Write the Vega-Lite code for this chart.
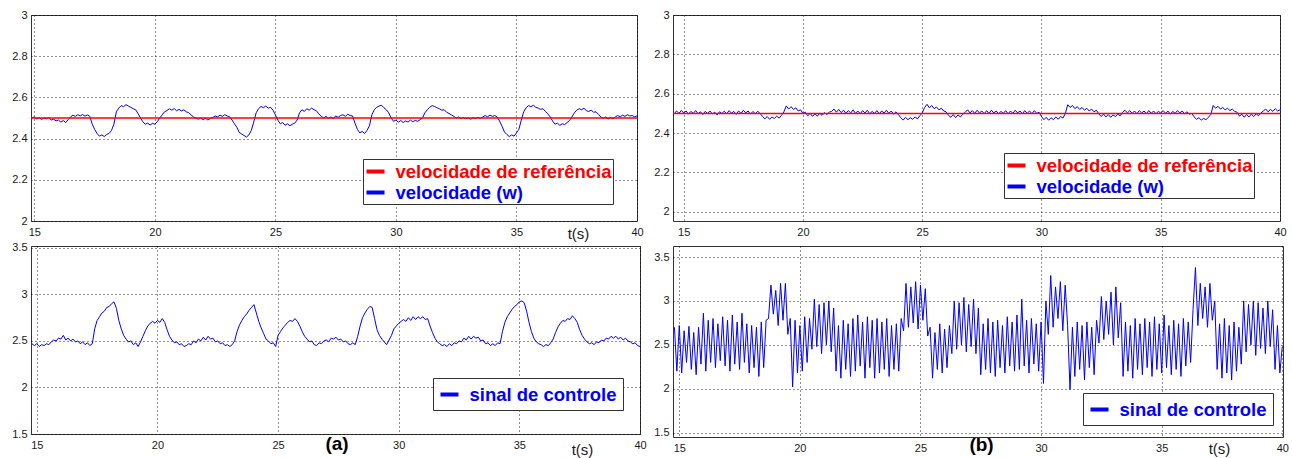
{
"$schema": "https://vega.github.io/schema/vega-lite/v6.json",
"background": "white",
"padding": {"left": 11, "top": 8, "right": 2, "bottom": 0},
"columns": 2,
"spacing": {"row": 25, "column": 33},
"bounds": "flush",
"resolve": {"scale": {"x": "independent", "y": "independent", "color": "independent"}, "axis": {"x": "independent", "y": "independent"}, "legend": {"color": "independent"}},
"config": {
"view": {"stroke": "#333333", "strokeWidth": 1},
"axis": {"labelFont": "Liberation Sans", "labelFontSize": 11, "labelColor": "#1a1a1a", "ticks": false, "domain": false, "grid": true, "gridColor": "#000000", "gridDash": [1, 3], "gridOpacity": 0.85, "gridWidth": 1, "labelFlush": false, "labelOverlap": false, "titleFont": "Liberation Sans", "titleFontSize": 15, "titleFontWeight": "normal", "titleColor": "#1a1a1a", "format": "~g"},
"axisX": {"labelPadding": 5},
"axisY": {"labelPadding": 4, "title": null},
"legend": {"orient": "none", "title": null, "symbolType": "stroke", "symbolStrokeWidth": 4, "symbolSize": 324, "labelFont": "Liberation Sans", "labelFontSize": 18.5, "labelFontWeight": "bold", "labelLimit": 500, "strokeColor": "#333333", "fillColor": "white", "labelOffset": 9, "cornerRadius": 0}
},
"datasets": {
"ra": [{"t": 14.86, "v": 2.5}, {"t": 40, "v": 2.5}],
"rb": [{"t": 14.55, "v": 2.5}, {"t": 40, "v": 2.5}],
"a1": [
{"t":14.9,"v":2.500},{"t":15.0,"v":2.505},{"t":15.1,"v":2.495},{"t":15.2,"v":2.502},{"t":15.3,"v":2.493},{"t":15.4,"v":2.500},{"t":15.5,"v":2.496},{"t":15.6,"v":2.502},{"t":15.7,"v":2.490},{"t":15.8,"v":2.494},{"t":15.9,"v":2.486},{"t":16.0,"v":2.490},{"t":16.1,"v":2.480},{"t":16.2,"v":2.488},{"t":16.3,"v":2.478},{"t":16.4,"v":2.492},{"t":16.5,"v":2.505},{"t":16.6,"v":2.514},{"t":16.7,"v":2.508},{"t":16.8,"v":2.516},{"t":16.9,"v":2.510},{"t":17.0,"v":2.517},{"t":17.1,"v":2.509},{"t":17.2,"v":2.515},{"t":17.3,"v":2.508},{"t":17.4,"v":2.470},{"t":17.5,"v":2.445},{"t":17.6,"v":2.425},{"t":17.7,"v":2.412},{"t":17.8,"v":2.418},{"t":17.9,"v":2.410},{"t":18.0,"v":2.420},{"t":18.1,"v":2.425},{"t":18.2,"v":2.440},{"t":18.3,"v":2.470},{"t":18.4,"v":2.530},{"t":18.5,"v":2.548},{"t":18.6,"v":2.560},{"t":18.7,"v":2.555},{"t":18.8,"v":2.565},{"t":18.9,"v":2.558},{"t":19.0,"v":2.552},{"t":19.1,"v":2.545},{"t":19.2,"v":2.540},{"t":19.3,"v":2.522},{"t":19.4,"v":2.500},{"t":19.5,"v":2.482},{"t":19.6,"v":2.470},{"t":19.7,"v":2.475},{"t":19.8,"v":2.466},{"t":19.9,"v":2.474},{"t":20.0,"v":2.470},{"t":20.1,"v":2.482},{"t":20.2,"v":2.500},{"t":20.3,"v":2.515},{"t":20.4,"v":2.530},{"t":20.5,"v":2.536},{"t":20.6,"v":2.545},{"t":20.7,"v":2.538},{"t":20.8,"v":2.546},{"t":20.9,"v":2.535},{"t":21.0,"v":2.542},{"t":21.1,"v":2.534},{"t":21.2,"v":2.540},{"t":21.3,"v":2.530},{"t":21.4,"v":2.526},{"t":21.5,"v":2.515},{"t":21.6,"v":2.505},{"t":21.7,"v":2.500},{"t":21.8,"v":2.494},{"t":21.9,"v":2.500},{"t":22.0,"v":2.492},{"t":22.1,"v":2.499},{"t":22.2,"v":2.490},{"t":22.3,"v":2.498},{"t":22.4,"v":2.502},{"t":22.5,"v":2.510},{"t":22.6,"v":2.505},{"t":22.7,"v":2.514},{"t":22.8,"v":2.508},{"t":22.9,"v":2.516},{"t":23.0,"v":2.510},{"t":23.1,"v":2.506},{"t":23.2,"v":2.490},{"t":23.3,"v":2.472},{"t":23.4,"v":2.455},{"t":23.5,"v":2.430},{"t":23.6,"v":2.422},{"t":23.7,"v":2.415},{"t":23.8,"v":2.408},{"t":23.9,"v":2.418},{"t":24.0,"v":2.440},{"t":24.1,"v":2.480},{"t":24.2,"v":2.525},{"t":24.3,"v":2.545},{"t":24.4,"v":2.556},{"t":24.5,"v":2.550},{"t":24.6,"v":2.558},{"t":24.7,"v":2.548},{"t":24.8,"v":2.552},{"t":24.9,"v":2.538},{"t":25.0,"v":2.515},{"t":25.1,"v":2.490},{"t":25.2,"v":2.472},{"t":25.3,"v":2.478},{"t":25.4,"v":2.465},{"t":25.5,"v":2.472},{"t":25.6,"v":2.462},{"t":25.7,"v":2.470},{"t":25.8,"v":2.475},{"t":25.9,"v":2.490},{"t":26.0,"v":2.525},{"t":26.1,"v":2.540},{"t":26.2,"v":2.532},{"t":26.3,"v":2.545},{"t":26.4,"v":2.538},{"t":26.5,"v":2.548},{"t":26.6,"v":2.540},{"t":26.7,"v":2.535},{"t":26.8,"v":2.520},{"t":26.9,"v":2.508},{"t":27.0,"v":2.500},{"t":27.1,"v":2.508},{"t":27.2,"v":2.498},{"t":27.3,"v":2.505},{"t":27.4,"v":2.497},{"t":27.5,"v":2.510},{"t":27.6,"v":2.503},{"t":27.7,"v":2.512},{"t":27.8,"v":2.516},{"t":27.9,"v":2.508},{"t":28.0,"v":2.518},{"t":28.1,"v":2.512},{"t":28.2,"v":2.510},{"t":28.3,"v":2.475},{"t":28.4,"v":2.445},{"t":28.5,"v":2.428},{"t":28.6,"v":2.435},{"t":28.7,"v":2.425},{"t":28.8,"v":2.440},{"t":28.9,"v":2.462},{"t":29.0,"v":2.515},{"t":29.1,"v":2.540},{"t":29.2,"v":2.552},{"t":29.3,"v":2.558},{"t":29.4,"v":2.562},{"t":29.5,"v":2.550},{"t":29.6,"v":2.540},{"t":29.7,"v":2.525},{"t":29.8,"v":2.500},{"t":29.9,"v":2.484},{"t":30.0,"v":2.490},{"t":30.1,"v":2.480},{"t":30.2,"v":2.488},{"t":30.3,"v":2.478},{"t":30.4,"v":2.486},{"t":30.5,"v":2.480},{"t":30.6,"v":2.490},{"t":30.7,"v":2.482},{"t":30.8,"v":2.488},{"t":30.9,"v":2.484},{"t":31.0,"v":2.492},{"t":31.1,"v":2.500},{"t":31.2,"v":2.525},{"t":31.3,"v":2.540},{"t":31.4,"v":2.552},{"t":31.5,"v":2.560},{"t":31.6,"v":2.556},{"t":31.7,"v":2.550},{"t":31.8,"v":2.545},{"t":31.9,"v":2.538},{"t":32.0,"v":2.540},{"t":32.1,"v":2.528},{"t":32.2,"v":2.522},{"t":32.3,"v":2.515},{"t":32.4,"v":2.508},{"t":32.5,"v":2.500},{"t":32.6,"v":2.505},{"t":32.7,"v":2.497},{"t":32.8,"v":2.502},{"t":32.9,"v":2.496},{"t":33.0,"v":2.500},{"t":33.1,"v":2.494},{"t":33.2,"v":2.502},{"t":33.3,"v":2.497},{"t":33.4,"v":2.503},{"t":33.5,"v":2.498},{"t":33.6,"v":2.505},{"t":33.7,"v":2.512},{"t":33.8,"v":2.506},{"t":33.9,"v":2.514},{"t":34.0,"v":2.508},{"t":34.1,"v":2.512},{"t":34.2,"v":2.505},{"t":34.3,"v":2.485},{"t":34.4,"v":2.460},{"t":34.5,"v":2.432},{"t":34.6,"v":2.420},{"t":34.7,"v":2.410},{"t":34.8,"v":2.418},{"t":34.9,"v":2.412},{"t":35.0,"v":2.428},{"t":35.1,"v":2.445},{"t":35.2,"v":2.490},{"t":35.3,"v":2.530},{"t":35.4,"v":2.550},{"t":35.5,"v":2.560},{"t":35.6,"v":2.555},{"t":35.7,"v":2.562},{"t":35.8,"v":2.552},{"t":35.9,"v":2.548},{"t":36.0,"v":2.542},{"t":36.1,"v":2.545},{"t":36.2,"v":2.532},{"t":36.3,"v":2.520},{"t":36.4,"v":2.505},{"t":36.5,"v":2.485},{"t":36.6,"v":2.470},{"t":36.7,"v":2.475},{"t":36.8,"v":2.464},{"t":36.9,"v":2.472},{"t":37.0,"v":2.468},{"t":37.1,"v":2.478},{"t":37.2,"v":2.488},{"t":37.3,"v":2.505},{"t":37.4,"v":2.525},{"t":37.5,"v":2.538},{"t":37.6,"v":2.545},{"t":37.7,"v":2.540},{"t":37.8,"v":2.548},{"t":37.9,"v":2.535},{"t":38.0,"v":2.532},{"t":38.1,"v":2.538},{"t":38.2,"v":2.528},{"t":38.3,"v":2.530},{"t":38.4,"v":2.518},{"t":38.5,"v":2.505},{"t":38.6,"v":2.498},{"t":38.7,"v":2.505},{"t":38.8,"v":2.495},{"t":38.9,"v":2.502},{"t":39.0,"v":2.496},{"t":39.1,"v":2.505},{"t":39.2,"v":2.512},{"t":39.3,"v":2.505},{"t":39.4,"v":2.514},{"t":39.5,"v":2.508},{"t":39.6,"v":2.516},{"t":39.7,"v":2.510},{"t":39.8,"v":2.512},{"t":39.9,"v":2.506},{"t":40.0,"v":2.510}
],
"a2": [
{"t":14.8,"v":2.47},{"t":14.9,"v":2.45},{"t":15.0,"v":2.47},{"t":15.1,"v":2.44},{"t":15.2,"v":2.46},{"t":15.3,"v":2.45},{"t":15.4,"v":2.47},{"t":15.5,"v":2.46},{"t":15.6,"v":2.49},{"t":15.7,"v":2.51},{"t":15.8,"v":2.50},{"t":15.9,"v":2.53},{"t":16.0,"v":2.52},{"t":16.1,"v":2.56},{"t":16.2,"v":2.51},{"t":16.3,"v":2.53},{"t":16.4,"v":2.50},{"t":16.5,"v":2.52},{"t":16.6,"v":2.49},{"t":16.7,"v":2.50},{"t":16.8,"v":2.47},{"t":16.9,"v":2.49},{"t":17.0,"v":2.46},{"t":17.1,"v":2.48},{"t":17.2,"v":2.45},{"t":17.3,"v":2.47},{"t":17.4,"v":2.63},{"t":17.5,"v":2.72},{"t":17.6,"v":2.76},{"t":17.7,"v":2.80},{"t":17.8,"v":2.82},{"t":17.9,"v":2.86},{"t":18.0,"v":2.87},{"t":18.1,"v":2.90},{"t":18.2,"v":2.92},{"t":18.3,"v":2.85},{"t":18.4,"v":2.72},{"t":18.5,"v":2.63},{"t":18.6,"v":2.56},{"t":18.7,"v":2.52},{"t":18.8,"v":2.49},{"t":18.9,"v":2.50},{"t":19.0,"v":2.46},{"t":19.1,"v":2.48},{"t":19.2,"v":2.44},{"t":19.3,"v":2.49},{"t":19.4,"v":2.55},{"t":19.5,"v":2.61},{"t":19.6,"v":2.66},{"t":19.7,"v":2.69},{"t":19.8,"v":2.71},{"t":19.9,"v":2.69},{"t":20.0,"v":2.72},{"t":20.1,"v":2.70},{"t":20.2,"v":2.74},{"t":20.3,"v":2.70},{"t":20.4,"v":2.62},{"t":20.5,"v":2.55},{"t":20.6,"v":2.51},{"t":20.7,"v":2.48},{"t":20.8,"v":2.49},{"t":20.9,"v":2.46},{"t":21.0,"v":2.47},{"t":21.1,"v":2.44},{"t":21.2,"v":2.45},{"t":21.3,"v":2.47},{"t":21.4,"v":2.46},{"t":21.5,"v":2.50},{"t":21.6,"v":2.48},{"t":21.7,"v":2.52},{"t":21.8,"v":2.50},{"t":21.9,"v":2.54},{"t":22.0,"v":2.51},{"t":22.1,"v":2.55},{"t":22.2,"v":2.52},{"t":22.3,"v":2.53},{"t":22.4,"v":2.49},{"t":22.5,"v":2.50},{"t":22.6,"v":2.47},{"t":22.7,"v":2.48},{"t":22.8,"v":2.45},{"t":22.9,"v":2.46},{"t":23.0,"v":2.44},{"t":23.1,"v":2.46},{"t":23.2,"v":2.50},{"t":23.3,"v":2.60},{"t":23.4,"v":2.67},{"t":23.5,"v":2.72},{"t":23.6,"v":2.76},{"t":23.7,"v":2.79},{"t":23.8,"v":2.83},{"t":23.9,"v":2.86},{"t":24.0,"v":2.89},{"t":24.1,"v":2.80},{"t":24.2,"v":2.71},{"t":24.3,"v":2.64},{"t":24.4,"v":2.58},{"t":24.5,"v":2.52},{"t":24.6,"v":2.50},{"t":24.7,"v":2.47},{"t":24.8,"v":2.48},{"t":24.9,"v":2.44},{"t":25.0,"v":2.56},{"t":25.1,"v":2.60},{"t":25.2,"v":2.64},{"t":25.3,"v":2.67},{"t":25.4,"v":2.70},{"t":25.5,"v":2.72},{"t":25.6,"v":2.71},{"t":25.7,"v":2.74},{"t":25.8,"v":2.71},{"t":25.9,"v":2.66},{"t":26.0,"v":2.60},{"t":26.1,"v":2.55},{"t":26.2,"v":2.52},{"t":26.3,"v":2.49},{"t":26.4,"v":2.50},{"t":26.5,"v":2.46},{"t":26.6,"v":2.45},{"t":26.7,"v":2.48},{"t":26.8,"v":2.47},{"t":26.9,"v":2.50},{"t":27.0,"v":2.51},{"t":27.1,"v":2.49},{"t":27.2,"v":2.53},{"t":27.3,"v":2.52},{"t":27.4,"v":2.54},{"t":27.5,"v":2.51},{"t":27.6,"v":2.52},{"t":27.7,"v":2.49},{"t":27.8,"v":2.50},{"t":27.9,"v":2.47},{"t":28.0,"v":2.46},{"t":28.1,"v":2.48},{"t":28.2,"v":2.46},{"t":28.3,"v":2.55},{"t":28.4,"v":2.66},{"t":28.5,"v":2.75},{"t":28.6,"v":2.80},{"t":28.7,"v":2.84},{"t":28.8,"v":2.87},{"t":28.9,"v":2.86},{"t":29.0,"v":2.74},{"t":29.1,"v":2.62},{"t":29.2,"v":2.56},{"t":29.3,"v":2.52},{"t":29.4,"v":2.49},{"t":29.5,"v":2.46},{"t":29.6,"v":2.51},{"t":29.7,"v":2.56},{"t":29.8,"v":2.63},{"t":29.9,"v":2.66},{"t":30.0,"v":2.69},{"t":30.1,"v":2.71},{"t":30.2,"v":2.73},{"t":30.3,"v":2.71},{"t":30.4,"v":2.75},{"t":30.5,"v":2.72},{"t":30.6,"v":2.76},{"t":30.7,"v":2.73},{"t":30.8,"v":2.76},{"t":30.9,"v":2.74},{"t":31.0,"v":2.76},{"t":31.1,"v":2.73},{"t":31.2,"v":2.74},{"t":31.3,"v":2.66},{"t":31.4,"v":2.59},{"t":31.5,"v":2.53},{"t":31.6,"v":2.49},{"t":31.7,"v":2.47},{"t":31.8,"v":2.45},{"t":31.9,"v":2.46},{"t":32.0,"v":2.44},{"t":32.1,"v":2.47},{"t":32.2,"v":2.45},{"t":32.3,"v":2.48},{"t":32.4,"v":2.47},{"t":32.5,"v":2.50},{"t":32.6,"v":2.49},{"t":32.7,"v":2.53},{"t":32.8,"v":2.51},{"t":32.9,"v":2.55},{"t":33.0,"v":2.52},{"t":33.1,"v":2.55},{"t":33.2,"v":2.53},{"t":33.3,"v":2.54},{"t":33.4,"v":2.50},{"t":33.5,"v":2.51},{"t":33.6,"v":2.47},{"t":33.7,"v":2.48},{"t":33.8,"v":2.45},{"t":33.9,"v":2.47},{"t":34.0,"v":2.45},{"t":34.1,"v":2.48},{"t":34.2,"v":2.47},{"t":34.3,"v":2.60},{"t":34.4,"v":2.70},{"t":34.5,"v":2.76},{"t":34.6,"v":2.80},{"t":34.7,"v":2.84},{"t":34.8,"v":2.87},{"t":34.9,"v":2.89},{"t":35.0,"v":2.92},{"t":35.1,"v":2.93},{"t":35.2,"v":2.91},{"t":35.3,"v":2.82},{"t":35.4,"v":2.70},{"t":35.5,"v":2.60},{"t":35.6,"v":2.53},{"t":35.7,"v":2.49},{"t":35.8,"v":2.47},{"t":35.9,"v":2.46},{"t":36.0,"v":2.44},{"t":36.1,"v":2.46},{"t":36.2,"v":2.45},{"t":36.3,"v":2.48},{"t":36.4,"v":2.52},{"t":36.5,"v":2.59},{"t":36.6,"v":2.65},{"t":36.7,"v":2.69},{"t":36.8,"v":2.72},{"t":36.9,"v":2.71},{"t":37.0,"v":2.74},{"t":37.1,"v":2.73},{"t":37.2,"v":2.77},{"t":37.3,"v":2.74},{"t":37.4,"v":2.70},{"t":37.5,"v":2.62},{"t":37.6,"v":2.56},{"t":37.7,"v":2.52},{"t":37.8,"v":2.49},{"t":37.9,"v":2.47},{"t":38.0,"v":2.48},{"t":38.1,"v":2.46},{"t":38.2,"v":2.49},{"t":38.3,"v":2.48},{"t":38.4,"v":2.51},{"t":38.5,"v":2.50},{"t":38.6,"v":2.53},{"t":38.7,"v":2.52},{"t":38.8,"v":2.55},{"t":38.9,"v":2.53},{"t":39.0,"v":2.55},{"t":39.1,"v":2.52},{"t":39.2,"v":2.54},{"t":39.3,"v":2.51},{"t":39.4,"v":2.53},{"t":39.5,"v":2.50},{"t":39.6,"v":2.49},{"t":39.7,"v":2.47},{"t":39.8,"v":2.48},{"t":39.9,"v":2.45},{"t":40.0,"v":2.44}
],
"b1": [
{"t":14.6,"v":2.498},{"t":14.7,"v":2.512},{"t":14.8,"v":2.500},{"t":14.9,"v":2.515},{"t":15.0,"v":2.502},{"t":15.1,"v":2.512},{"t":15.2,"v":2.496},{"t":15.3,"v":2.510},{"t":15.4,"v":2.500},{"t":15.5,"v":2.514},{"t":15.6,"v":2.498},{"t":15.7,"v":2.508},{"t":15.8,"v":2.494},{"t":15.9,"v":2.510},{"t":16.0,"v":2.500},{"t":16.1,"v":2.512},{"t":16.2,"v":2.497},{"t":16.3,"v":2.506},{"t":16.4,"v":2.492},{"t":16.5,"v":2.508},{"t":16.6,"v":2.499},{"t":16.7,"v":2.511},{"t":16.8,"v":2.498},{"t":16.9,"v":2.514},{"t":17.0,"v":2.501},{"t":17.1,"v":2.510},{"t":17.2,"v":2.495},{"t":17.3,"v":2.512},{"t":17.4,"v":2.500},{"t":17.5,"v":2.516},{"t":17.6,"v":2.502},{"t":17.7,"v":2.512},{"t":17.8,"v":2.496},{"t":17.9,"v":2.510},{"t":18.0,"v":2.498},{"t":18.1,"v":2.511},{"t":18.2,"v":2.500},{"t":18.3,"v":2.485},{"t":18.4,"v":2.472},{"t":18.5,"v":2.484},{"t":18.6,"v":2.470},{"t":18.7,"v":2.482},{"t":18.8,"v":2.474},{"t":18.9,"v":2.486},{"t":19.0,"v":2.476},{"t":19.1,"v":2.490},{"t":19.2,"v":2.508},{"t":19.3,"v":2.538},{"t":19.4,"v":2.522},{"t":19.5,"v":2.534},{"t":19.6,"v":2.520},{"t":19.7,"v":2.528},{"t":19.8,"v":2.512},{"t":19.9,"v":2.518},{"t":20.0,"v":2.500},{"t":20.1,"v":2.506},{"t":20.2,"v":2.488},{"t":20.3,"v":2.500},{"t":20.4,"v":2.485},{"t":20.5,"v":2.498},{"t":20.6,"v":2.486},{"t":20.7,"v":2.500},{"t":20.8,"v":2.490},{"t":20.9,"v":2.504},{"t":21.0,"v":2.494},{"t":21.1,"v":2.506},{"t":21.2,"v":2.510},{"t":21.3,"v":2.522},{"t":21.4,"v":2.506},{"t":21.5,"v":2.520},{"t":21.6,"v":2.504},{"t":21.7,"v":2.516},{"t":21.8,"v":2.500},{"t":21.9,"v":2.514},{"t":22.0,"v":2.502},{"t":22.1,"v":2.518},{"t":22.2,"v":2.500},{"t":22.3,"v":2.512},{"t":22.4,"v":2.498},{"t":22.5,"v":2.514},{"t":22.6,"v":2.502},{"t":22.7,"v":2.516},{"t":22.8,"v":2.498},{"t":22.9,"v":2.510},{"t":23.0,"v":2.500},{"t":23.1,"v":2.514},{"t":23.2,"v":2.498},{"t":23.3,"v":2.512},{"t":23.4,"v":2.502},{"t":23.5,"v":2.516},{"t":23.6,"v":2.500},{"t":23.7,"v":2.512},{"t":23.8,"v":2.496},{"t":23.9,"v":2.508},{"t":24.0,"v":2.494},{"t":24.1,"v":2.478},{"t":24.2,"v":2.466},{"t":24.3,"v":2.480},{"t":24.4,"v":2.468},{"t":24.5,"v":2.478},{"t":24.6,"v":2.470},{"t":24.7,"v":2.482},{"t":24.8,"v":2.472},{"t":24.9,"v":2.488},{"t":25.0,"v":2.502},{"t":25.1,"v":2.530},{"t":25.2,"v":2.546},{"t":25.3,"v":2.528},{"t":25.4,"v":2.540},{"t":25.5,"v":2.524},{"t":25.6,"v":2.532},{"t":25.7,"v":2.518},{"t":25.8,"v":2.526},{"t":25.9,"v":2.512},{"t":26.0,"v":2.508},{"t":26.1,"v":2.490},{"t":26.2,"v":2.480},{"t":26.3,"v":2.494},{"t":26.4,"v":2.478},{"t":26.5,"v":2.492},{"t":26.6,"v":2.482},{"t":26.7,"v":2.496},{"t":26.8,"v":2.505},{"t":26.9,"v":2.518},{"t":27.0,"v":2.502},{"t":27.1,"v":2.514},{"t":27.2,"v":2.500},{"t":27.3,"v":2.516},{"t":27.4,"v":2.502},{"t":27.5,"v":2.512},{"t":27.6,"v":2.498},{"t":27.7,"v":2.514},{"t":27.8,"v":2.500},{"t":27.9,"v":2.516},{"t":28.0,"v":2.502},{"t":28.1,"v":2.512},{"t":28.2,"v":2.498},{"t":28.3,"v":2.510},{"t":28.4,"v":2.500},{"t":28.5,"v":2.514},{"t":28.6,"v":2.498},{"t":28.7,"v":2.512},{"t":28.8,"v":2.500},{"t":28.9,"v":2.516},{"t":29.0,"v":2.502},{"t":29.1,"v":2.512},{"t":29.2,"v":2.498},{"t":29.3,"v":2.514},{"t":29.4,"v":2.500},{"t":29.5,"v":2.512},{"t":29.6,"v":2.498},{"t":29.7,"v":2.514},{"t":29.8,"v":2.500},{"t":29.9,"v":2.506},{"t":30.0,"v":2.484},{"t":30.1,"v":2.468},{"t":30.2,"v":2.480},{"t":30.3,"v":2.465},{"t":30.4,"v":2.478},{"t":30.5,"v":2.468},{"t":30.6,"v":2.482},{"t":30.7,"v":2.470},{"t":30.8,"v":2.484},{"t":30.9,"v":2.476},{"t":31.0,"v":2.500},{"t":31.1,"v":2.544},{"t":31.2,"v":2.530},{"t":31.3,"v":2.540},{"t":31.4,"v":2.524},{"t":31.5,"v":2.534},{"t":31.6,"v":2.520},{"t":31.7,"v":2.530},{"t":31.8,"v":2.516},{"t":31.9,"v":2.526},{"t":32.0,"v":2.512},{"t":32.1,"v":2.522},{"t":32.2,"v":2.508},{"t":32.3,"v":2.516},{"t":32.4,"v":2.498},{"t":32.5,"v":2.484},{"t":32.6,"v":2.496},{"t":32.7,"v":2.482},{"t":32.8,"v":2.494},{"t":32.9,"v":2.480},{"t":33.0,"v":2.492},{"t":33.1,"v":2.484},{"t":33.2,"v":2.496},{"t":33.3,"v":2.488},{"t":33.4,"v":2.506},{"t":33.5,"v":2.516},{"t":33.6,"v":2.502},{"t":33.7,"v":2.514},{"t":33.8,"v":2.500},{"t":33.9,"v":2.512},{"t":34.0,"v":2.498},{"t":34.1,"v":2.514},{"t":34.2,"v":2.502},{"t":34.3,"v":2.512},{"t":34.4,"v":2.498},{"t":34.5,"v":2.514},{"t":34.6,"v":2.500},{"t":34.7,"v":2.512},{"t":34.8,"v":2.498},{"t":34.9,"v":2.510},{"t":35.0,"v":2.502},{"t":35.1,"v":2.514},{"t":35.2,"v":2.500},{"t":35.3,"v":2.512},{"t":35.4,"v":2.496},{"t":35.5,"v":2.510},{"t":35.6,"v":2.500},{"t":35.7,"v":2.514},{"t":35.8,"v":2.502},{"t":35.9,"v":2.512},{"t":36.0,"v":2.498},{"t":36.1,"v":2.508},{"t":36.2,"v":2.496},{"t":36.3,"v":2.500},{"t":36.4,"v":2.482},{"t":36.5,"v":2.470},{"t":36.6,"v":2.478},{"t":36.7,"v":2.466},{"t":36.8,"v":2.474},{"t":36.9,"v":2.468},{"t":37.0,"v":2.480},{"t":37.1,"v":2.495},{"t":37.2,"v":2.540},{"t":37.3,"v":2.526},{"t":37.4,"v":2.536},{"t":37.5,"v":2.522},{"t":37.6,"v":2.530},{"t":37.7,"v":2.518},{"t":37.8,"v":2.526},{"t":37.9,"v":2.514},{"t":38.0,"v":2.522},{"t":38.1,"v":2.510},{"t":38.2,"v":2.506},{"t":38.3,"v":2.486},{"t":38.4,"v":2.496},{"t":38.5,"v":2.480},{"t":38.6,"v":2.494},{"t":38.7,"v":2.482},{"t":38.8,"v":2.496},{"t":38.9,"v":2.484},{"t":39.0,"v":2.498},{"t":39.1,"v":2.488},{"t":39.2,"v":2.502},{"t":39.3,"v":2.512},{"t":39.4,"v":2.522},{"t":39.5,"v":2.508},{"t":39.6,"v":2.520},{"t":39.7,"v":2.510},{"t":39.8,"v":2.524},{"t":39.9,"v":2.512},{"t":40.0,"v":2.518}
],
"b2": [
{"t":14.8,"v":2.70},{"t":14.9,"v":2.20},{"t":15.0,"v":2.72},{"t":15.1,"v":2.18},{"t":15.2,"v":2.66},{"t":15.3,"v":2.30},{"t":15.4,"v":2.71},{"t":15.5,"v":2.22},{"t":15.6,"v":2.64},{"t":15.7,"v":2.16},{"t":15.8,"v":2.70},{"t":15.9,"v":2.28},{"t":16.0,"v":2.86},{"t":16.1,"v":2.20},{"t":16.2,"v":2.78},{"t":16.3,"v":2.30},{"t":16.4,"v":2.80},{"t":16.5,"v":2.24},{"t":16.6,"v":2.74},{"t":16.7,"v":2.32},{"t":16.8,"v":2.82},{"t":16.9,"v":2.26},{"t":17.0,"v":2.78},{"t":17.1,"v":2.20},{"t":17.2,"v":2.84},{"t":17.3,"v":2.28},{"t":17.4,"v":2.76},{"t":17.5,"v":2.22},{"t":17.6,"v":2.86},{"t":17.7,"v":2.30},{"t":17.8,"v":2.74},{"t":17.9,"v":2.18},{"t":18.0,"v":2.72},{"t":18.1,"v":2.24},{"t":18.2,"v":2.70},{"t":18.3,"v":2.14},{"t":18.4,"v":2.76},{"t":18.5,"v":2.24},{"t":18.6,"v":2.78},{"t":18.7,"v":2.80},{"t":18.8,"v":3.18},{"t":18.9,"v":2.85},{"t":19.0,"v":3.12},{"t":19.1,"v":2.72},{"t":19.2,"v":3.20},{"t":19.3,"v":2.78},{"t":19.4,"v":3.20},{"t":19.5,"v":2.62},{"t":19.6,"v":2.80},{"t":19.7,"v":2.02},{"t":19.8,"v":2.78},{"t":19.9,"v":2.18},{"t":20.0,"v":2.72},{"t":20.1,"v":2.20},{"t":20.2,"v":2.82},{"t":20.3,"v":2.30},{"t":20.4,"v":2.80},{"t":20.5,"v":2.45},{"t":20.6,"v":3.02},{"t":20.7,"v":2.48},{"t":20.8,"v":2.96},{"t":20.9,"v":2.40},{"t":21.0,"v":2.98},{"t":21.1,"v":2.50},{"t":21.2,"v":3.00},{"t":21.3,"v":2.42},{"t":21.4,"v":2.92},{"t":21.5,"v":2.20},{"t":21.6,"v":2.72},{"t":21.7,"v":2.12},{"t":21.8,"v":2.78},{"t":21.9,"v":2.22},{"t":22.0,"v":2.74},{"t":22.1,"v":2.14},{"t":22.2,"v":2.80},{"t":22.3,"v":2.20},{"t":22.4,"v":2.84},{"t":22.5,"v":2.26},{"t":22.6,"v":2.76},{"t":22.7,"v":2.12},{"t":22.8,"v":2.82},{"t":22.9,"v":2.24},{"t":23.0,"v":2.78},{"t":23.1,"v":2.12},{"t":23.2,"v":2.80},{"t":23.3,"v":2.18},{"t":23.4,"v":2.76},{"t":23.5,"v":2.22},{"t":23.6,"v":2.80},{"t":23.7,"v":2.14},{"t":23.8,"v":2.72},{"t":23.9,"v":2.22},{"t":24.0,"v":2.74},{"t":24.1,"v":2.20},{"t":24.2,"v":2.80},{"t":24.3,"v":2.66},{"t":24.4,"v":3.20},{"t":24.5,"v":2.70},{"t":24.6,"v":3.16},{"t":24.7,"v":2.75},{"t":24.8,"v":3.22},{"t":24.9,"v":2.68},{"t":25.0,"v":3.18},{"t":25.1,"v":2.78},{"t":25.2,"v":3.14},{"t":25.3,"v":2.60},{"t":25.4,"v":2.70},{"t":25.5,"v":2.12},{"t":25.6,"v":2.64},{"t":25.7,"v":2.22},{"t":25.8,"v":2.74},{"t":25.9,"v":2.18},{"t":26.0,"v":2.68},{"t":26.1,"v":2.24},{"t":26.2,"v":2.72},{"t":26.3,"v":2.40},{"t":26.4,"v":3.00},{"t":26.5,"v":2.45},{"t":26.6,"v":2.98},{"t":26.7,"v":2.50},{"t":26.8,"v":3.04},{"t":26.9,"v":2.42},{"t":27.0,"v":2.96},{"t":27.1,"v":2.48},{"t":27.2,"v":3.02},{"t":27.3,"v":2.40},{"t":27.4,"v":2.92},{"t":27.5,"v":2.16},{"t":27.6,"v":2.74},{"t":27.7,"v":2.22},{"t":27.8,"v":2.80},{"t":27.9,"v":2.18},{"t":28.0,"v":2.76},{"t":28.1,"v":2.14},{"t":28.2,"v":2.78},{"t":28.3,"v":2.24},{"t":28.4,"v":2.72},{"t":28.5,"v":2.18},{"t":28.6,"v":2.82},{"t":28.7,"v":2.26},{"t":28.8,"v":2.76},{"t":28.9,"v":2.20},{"t":29.0,"v":2.84},{"t":29.1,"v":2.22},{"t":29.2,"v":3.02},{"t":29.3,"v":2.26},{"t":29.4,"v":2.78},{"t":29.5,"v":2.18},{"t":29.6,"v":2.80},{"t":29.7,"v":2.28},{"t":29.8,"v":2.74},{"t":29.9,"v":2.20},{"t":30.0,"v":2.76},{"t":30.1,"v":2.06},{"t":30.2,"v":3.00},{"t":30.3,"v":2.62},{"t":30.4,"v":3.29},{"t":30.5,"v":2.70},{"t":30.6,"v":3.16},{"t":30.7,"v":2.80},{"t":30.8,"v":3.22},{"t":30.9,"v":2.66},{"t":31.0,"v":3.18},{"t":31.1,"v":2.72},{"t":31.2,"v":1.99},{"t":31.3,"v":2.70},{"t":31.4,"v":2.14},{"t":31.5,"v":2.76},{"t":31.6,"v":2.22},{"t":31.7,"v":2.72},{"t":31.8,"v":2.10},{"t":31.9,"v":2.76},{"t":32.0,"v":2.24},{"t":32.1,"v":2.70},{"t":32.2,"v":2.16},{"t":32.3,"v":2.78},{"t":32.4,"v":2.52},{"t":32.5,"v":3.05},{"t":32.6,"v":2.56},{"t":32.7,"v":3.00},{"t":32.8,"v":2.62},{"t":32.9,"v":3.10},{"t":33.0,"v":2.50},{"t":33.1,"v":3.16},{"t":33.2,"v":2.58},{"t":33.3,"v":2.98},{"t":33.4,"v":2.14},{"t":33.5,"v":2.76},{"t":33.6,"v":2.20},{"t":33.7,"v":2.72},{"t":33.8,"v":2.12},{"t":33.9,"v":2.80},{"t":34.0,"v":2.22},{"t":34.1,"v":2.74},{"t":34.2,"v":2.16},{"t":34.3,"v":2.80},{"t":34.4,"v":2.24},{"t":34.5,"v":2.76},{"t":34.6,"v":2.14},{"t":34.7,"v":2.82},{"t":34.8,"v":2.22},{"t":34.9,"v":2.74},{"t":35.0,"v":2.18},{"t":35.1,"v":2.84},{"t":35.2,"v":2.24},{"t":35.3,"v":2.72},{"t":35.4,"v":2.16},{"t":35.5,"v":2.78},{"t":35.6,"v":2.22},{"t":35.7,"v":2.74},{"t":35.8,"v":2.14},{"t":35.9,"v":2.80},{"t":36.0,"v":2.26},{"t":36.1,"v":2.76},{"t":36.2,"v":2.30},{"t":36.3,"v":2.90},{"t":36.4,"v":3.38},{"t":36.5,"v":2.72},{"t":36.6,"v":3.20},{"t":36.7,"v":2.80},{"t":36.8,"v":3.16},{"t":36.9,"v":2.70},{"t":37.0,"v":3.20},{"t":37.1,"v":2.78},{"t":37.2,"v":3.00},{"t":37.3,"v":2.22},{"t":37.4,"v":2.74},{"t":37.5,"v":2.12},{"t":37.6,"v":2.80},{"t":37.7,"v":2.18},{"t":37.8,"v":2.72},{"t":37.9,"v":2.10},{"t":38.0,"v":2.76},{"t":38.1,"v":2.20},{"t":38.2,"v":2.70},{"t":38.3,"v":2.28},{"t":38.4,"v":3.00},{"t":38.5,"v":2.42},{"t":38.6,"v":2.96},{"t":38.7,"v":2.50},{"t":38.8,"v":3.00},{"t":38.9,"v":2.38},{"t":39.0,"v":2.98},{"t":39.1,"v":2.46},{"t":39.2,"v":2.92},{"t":39.3,"v":2.40},{"t":39.4,"v":3.00},{"t":39.5,"v":2.48},{"t":39.6,"v":2.90},{"t":39.7,"v":2.22},{"t":39.8,"v":2.72},{"t":39.9,"v":2.18},{"t":40.0,"v":2.48}
]
},
"concat": [
{
"width": 606, "height": 206,
"layer": [
{"data": {"name": "a1"}, "mark": {"type": "line", "clip": true, "strokeWidth": 1},
"encoding": {
"x": {"field": "t", "type": "quantitative", "scale": {"domain": [14.86, 40], "nice": false, "zero": false}, "axis": {"values": [15, 20, 25, 30, 35, 40], "title": "t(s)", "titleX": 547, "titleY": 12, "titleBaseline": "middle", "titleAlign": "center"}},
"y": {"field": "v", "type": "quantitative", "scale": {"domain": [2, 3], "nice": false, "zero": false}, "axis": {"values": [2, 2.2, 2.4, 2.6, 2.8, 3]}},
"color": {"datum": "velocidade (w)", "scale": {"domain": ["velocidade de referência", "velocidade (w)"], "range": ["#ff0000", "#0000ff"]},
"legend": {"legendX": 332, "legendY": 144, "padding": 1.5, "rowPadding": 0, "labelColor": {"expr": "datum.value === 'velocidade de referência' ? '#ff0000' : '#0000ff'"}}}
}},
{"data": {"name": "ra"}, "mark": {"type": "line", "clip": true, "strokeWidth": 1.5},
"encoding": {"x": {"field": "t", "type": "quantitative"}, "y": {"field": "v", "type": "quantitative"}, "color": {"datum": "velocidade de referência"}}}
]
},
{
"width": 607, "height": 206,
"layer": [
{"data": {"name": "b1"}, "mark": {"type": "line", "clip": true, "strokeWidth": 1},
"encoding": {
"x": {"field": "t", "type": "quantitative", "scale": {"domain": [14.55, 40], "nice": false, "zero": false}, "axis": {"values": [15, 20, 25, 30, 35, 40], "title": null}},
"y": {"field": "v", "type": "quantitative", "scale": {"domain": [1.953, 3], "nice": false, "zero": false}, "axis": {"values": [2, 2.2, 2.4, 2.6, 2.8, 3]}},
"color": {"datum": "velocidade (w)", "scale": {"domain": ["velocidade de referência", "velocidade (w)"], "range": ["#ff0000", "#0000ff"]},
"legend": {"legendX": 331, "legendY": 138, "padding": 1.5, "rowPadding": 0, "labelColor": {"expr": "datum.value === 'velocidade de referência' ? '#ff0000' : '#0000ff'"}}}
}},
{"data": {"name": "rb"}, "mark": {"type": "line", "clip": true, "strokeWidth": 1.5},
"encoding": {"x": {"field": "t", "type": "quantitative"}, "y": {"field": "v", "type": "quantitative"}, "color": {"datum": "velocidade de referência"}}}
]
},
{
"width": 609, "height": 188,
"title": {"text": "(a)", "orient": "bottom", "anchor": "middle", "font": "Liberation Sans", "fontSize": 19, "fontWeight": "bold", "color": "#000000", "offset": 0, "dy": -22, "dx": 1.5},
"data": {"name": "a2"},
"mark": {"type": "line", "clip": true, "strokeWidth": 1},
"encoding": {
"x": {"field": "t", "type": "quantitative", "scale": {"domain": [14.76, 40], "nice": false, "zero": false}, "axis": {"values": [15, 20, 25, 30, 35, 40], "title": "t(s)", "titleX": 551, "titleY": 15, "titleBaseline": "middle", "titleAlign": "center"}},
"y": {"field": "v", "type": "quantitative", "scale": {"domain": [1.5, 3.52], "nice": false, "zero": false}, "axis": {"values": [1.5, 2, 2.5, 3, 3.5]}},
"color": {"datum": "sinal de controle", "scale": {"domain": ["sinal de controle"], "range": ["#0000ff"]},
"legend": {"legendX": 402, "legendY": 132, "padding": 5.5, "labelColor": "#0000ff"}}
}
},
{
"width": 610, "height": 191,
"title": {"text": "(b)", "orient": "bottom", "anchor": "middle", "font": "Liberation Sans", "fontSize": 19, "fontWeight": "bold", "color": "#000000", "offset": 0, "dy": -21, "dx": 3.5},
"data": {"name": "b2"},
"mark": {"type": "line", "clip": true, "strokeWidth": 1},
"encoding": {
"x": {"field": "t", "type": "quantitative", "scale": {"domain": [14.74, 40.03], "nice": false, "zero": false}, "axis": {"values": [15, 20, 25, 30, 35, 40], "title": "t(s)", "titleX": 546, "titleY": 11.5, "titleBaseline": "middle", "titleAlign": "center"}},
"y": {"field": "v", "type": "quantitative", "scale": {"domain": [1.45, 3.626], "nice": false, "zero": false}, "axis": {"values": [1.5, 2, 2.5, 3, 3.5]}},
"color": {"datum": "sinal de controle", "scale": {"domain": ["sinal de controle"], "range": ["#0000ff"]},
"legend": {"legendX": 410, "legendY": 147, "padding": 5.5, "labelColor": "#0000ff"}}
}
}
]
}
